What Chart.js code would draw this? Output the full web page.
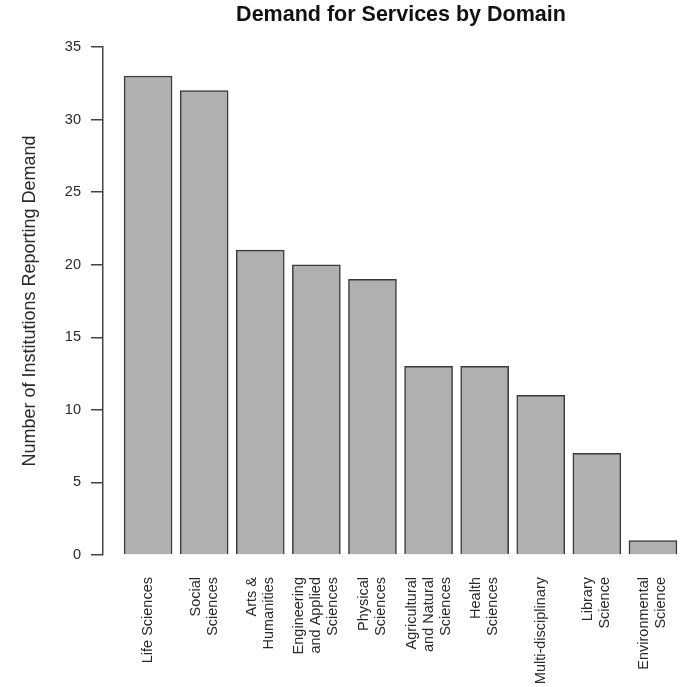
<!DOCTYPE html>
<html lang="en">
<head>
  <meta charset="UTF-8">
  <title>Demand for Services by Domain</title>
  <style>
    body {
      margin: 0;
      background-color: #fff;
    }
    canvas {
      display: block;
    }
  </style>
  <script src="https://cdn.jsdelivr.net/npm/chart.js"></script>
</head>
<body>
<canvas id="demandChart" width="684" height="687"></canvas>

<script>
  // Categories (tick labels, split into lines) and counts
  const domainLabels = [
    ['Life Sciences'],
    ['Social', 'Sciences'],
    ['Arts &', 'Humanities'],
    ['Engineering', 'and Applied', 'Sciences'],
    ['Physical', 'Sciences'],
    ['Agricultural', 'and Natural', 'Sciences'],
    ['Health', 'Sciences'],
    ['Multi-disciplinary'],
    ['Library', 'Science'],
    ['Environmental', 'Science']
  ];
  const institutionCounts = [33, 32, 21, 20, 19, 13, 13, 11, 7, 1];
  const yTicks = [0, 5, 10, 15, 20, 25, 30, 35];

  const axisFont = '"Liberation Sans", Arial, sans-serif';

  // Rotated, multi-line category labels centred under each bar (R las=2 style)
  const rotatedLabels = {
    id: 'rotatedLabels',
    afterLayout(chart) {
      // original plot region runs past the right edge, so its title sits right of centre
      chart.titleBlock.left += 8;
      chart.titleBlock.right += 8;
    },
    afterDraw(chart) {
      const ctx = chart.ctx;
      const xScale = chart.scales.x;
      const top = chart.chartArea.bottom + 22;
      const lineGap = 17;
      ctx.save();
      ctx.font = '14.5px ' + axisFont;
      ctx.fillStyle = '#2a2a2a';
      ctx.textAlign = 'right';
      ctx.textBaseline = 'middle';
      domainLabels.forEach((lines, i) => {
        const cx = xScale.getPixelForValue(i);
        lines.forEach((line, k) => {
          const x = cx + (k - (lines.length - 1) / 2) * lineGap;
          ctx.save();
          ctx.translate(x, top);
          ctx.rotate(-Math.PI / 2);
          ctx.fillText(line, 0, 0);
          ctx.restore();
        });
      });
      ctx.restore();
    }
  };

  const ctx = document.getElementById('demandChart').getContext('2d');
  new Chart(ctx, {
    type: 'bar',
    data: {
      datasets: [{
        data: institutionCounts.map((v, i) => ({ x: i, y: v })),
        backgroundColor: '#b0b0b0',
        borderColor: '#3a3a3a',
        borderWidth: 1.5,
        barThickness: 48
      }]
    },
    options: {
      responsive: false,
      animation: false,
      layout: {
        padding: { left: 0, right: 1, top: 0, bottom: 0 }
      },
      plugins: {
        legend: { display: false },
        tooltip: { enabled: false },
        title: {
          display: true,
          fullSize: false,
          text: 'Demand for Services by Domain',
          color: '#111',
          font: { family: axisFont, size: 21.5, weight: 'bold', lineHeight: 1.2 },
          padding: { top: 2, bottom: 19.2 }
        }
      },
      scales: {
        x: {
          type: 'linear',
          offset: false,
          min: -0.8036,
          max: 9.5357,
          ticks: { display: false },
          grid: { display: false, offset: false },
          border: { display: false },
          afterFit(scale) { scale.height = 132; }
        },
        y: {
          min: 0,
          max: 35,
          afterBuildTicks(scale) {
            scale.ticks = yTicks.map(v => ({ value: v }));
          },
          ticks: {
            color: '#2a2a2a',
            padding: 10,
            font: { family: axisFont, size: 14.5 }
          },
          grid: {
            drawOnChartArea: false,
            drawTicks: true,
            tickLength: 12,
            color: '#444',
            lineWidth: 1.5
          },
          border: { display: true, color: '#444', width: 1.5 },
          title: {
            display: true,
            text: 'Number of Institutions Reporting Demand',
            color: '#2a2a2a',
            font: { family: axisFont, size: 18, lineHeight: 1.2 },
            padding: { top: 19, bottom: 0 }
          },
          afterFit(scale) { scale.width = 103; }
        }
      }
    },
    plugins: [rotatedLabels]
  });
</script>
</body>
</html>
